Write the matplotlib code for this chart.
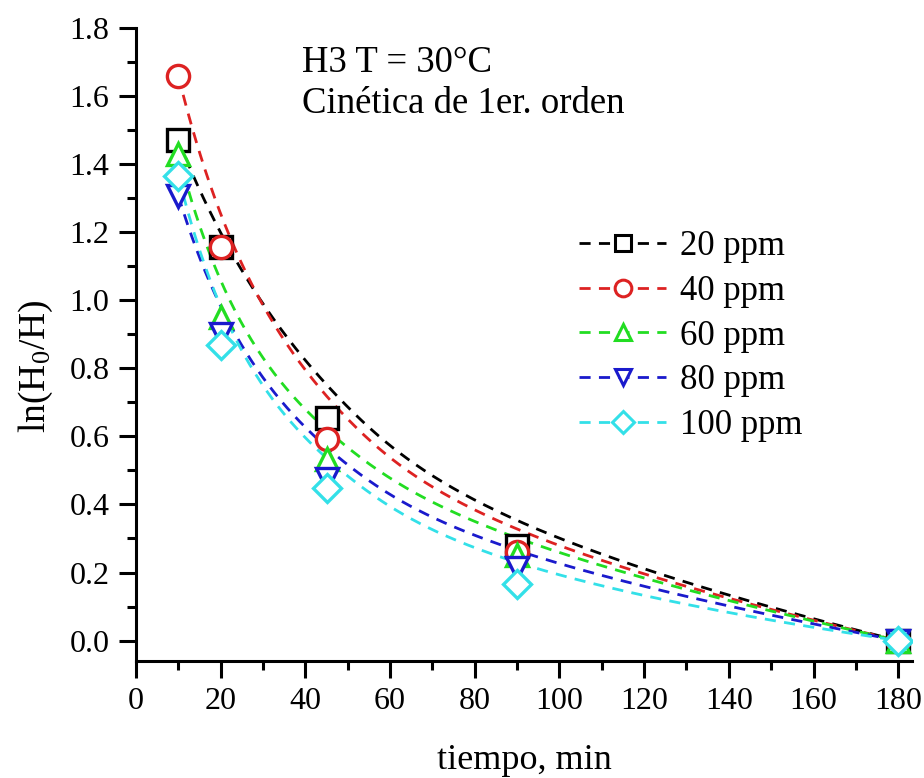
import numpy as np
import matplotlib
matplotlib.use("Agg")
import matplotlib.pyplot as plt
from matplotlib.ticker import MultipleLocator, FormatStrFormatter

# ln(H0/H) vs time for H3 at 30 C, five concentrations
tiempo = [10, 20, 45, 90, 180]
labels = ["20 ppm", "40 ppm", "60 ppm", "80 ppm", "100 ppm"]
y_20 = [1.471, 1.157, 0.655, 0.279, 0.0]
y_40 = [1.659, 1.157, 0.593, 0.261, 0.0]
y_60 = [1.430, 0.951, 0.534, 0.250, 0.0]
y_80 = [1.307, 0.900, 0.476, 0.214, 0.0]
y_100 = [1.365, 0.869, 0.449, 0.167, 0.0]
series = [y_20, y_40, y_60, y_80, y_100]

colors = ["black", "#dd2222", "#22dd22", "#1a1acc", "#33e0e8"]
markers = ["s", "o", "^", "v", "D"]


def bspline(px, py, degree=3, n=300):
    # clamped uniform B-spline using the data points as control points
    P = np.column_stack([px, py]).astype(float)
    m = len(P)
    k = min(degree, m - 1)
    inner = np.linspace(0, 1, m - k + 1)[1:-1]
    knots = np.concatenate([np.zeros(k + 1), inner, np.ones(k + 1)])
    u = np.linspace(0, 1, n)
    u[-1] -= 1e-10

    # Cox-de Boor recursion
    N = np.zeros((n, len(knots) - 1))
    for i in range(len(knots) - 1):
        N[:, i] = (knots[i] <= u) & (u < knots[i + 1])
    for d in range(1, k + 1):
        Nn = np.zeros((n, len(knots) - 1 - d))
        for i in range(len(knots) - 1 - d):
            a = knots[i + d] - knots[i]
            b = knots[i + d + 1] - knots[i + 1]
            left = (u - knots[i]) / a * N[:, i] if a > 0 else 0
            right = (knots[i + d + 1] - u) / b * N[:, i + 1] if b > 0 else 0
            Nn[:, i] = left + right
        N = Nn
    C = N @ P
    return C[:, 0], C[:, 1]


plt.rcParams["font.family"] = ["Liberation Serif", "DejaVu Serif"]
plt.rcParams["mathtext.fontset"] = "custom"
plt.rcParams["mathtext.rm"] = "Liberation Serif"
plt.rcParams["mathtext.default"] = "regular"

fig = plt.figure(figsize=(9.24, 7.78), dpi=100)
ax = fig.add_axes([0.1472, 0.1504, 0.84, 0.8136])

dash = (4.0, 3.0)
for y, lab, col, mk in zip(series, labels, colors, markers):
    cx, cy = bspline(tiempo, y)
    ax.plot(cx, cy, color=col, lw=2.0, dashes=dash, zorder=2)
    ax.plot(tiempo, y, linestyle="none", marker=mk, ms=16 if mk != "D" else 14,
            mfc="white", mec=col, mew=2.4, zorder=3)
    # legend entry: dashed line with marker in the middle
    ax.plot([], [], color=col, lw=2.0, dashes=dash, marker=mk,
            ms=12 if mk != "D" else 11, mfc="white", mec=col, mew=2.2, label=lab)

ax.set_xlim(0, 183.3)
ax.set_ylim(-0.06, 1.8)
ax.xaxis.set_major_locator(MultipleLocator(20))
ax.xaxis.set_minor_locator(MultipleLocator(10))
ax.yaxis.set_major_locator(MultipleLocator(0.2))
ax.yaxis.set_minor_locator(MultipleLocator(0.1))
ax.yaxis.set_major_formatter(FormatStrFormatter("%.1f"))

for side in ["top", "right"]:
    ax.spines[side].set_visible(False)
for side in ["left", "bottom"]:
    ax.spines[side].set_linewidth(2.2)

ax.tick_params(which="major", direction="out", length=12, width=2.2,
               labelsize=23, pad=7)
ax.tick_params(which="minor", direction="out", length=6.5, width=2.2)

ax.set_xlabel("tiempo, min", fontsize=26, labelpad=20)
ax.set_ylabel("ln(H$_0$/H)", fontsize=27)
ax.yaxis.set_label_coords(-0.104, 0.466)

ax.text(39.2, 1.67, "H3 T = 30\u00b0C", fontsize=26.5, va="baseline")
ax.text(39.2, 1.55, "Cin\u00e9tica de 1er. orden", fontsize=26.5, va="baseline")

ax.legend(loc="upper left", bbox_to_anchor=(0.553, 0.703), frameon=False,
          fontsize=25, handlelength=2.5, handletextpad=0.4, labelspacing=0.34,
          borderaxespad=0)

fig.savefig("out.png", dpi=100)
